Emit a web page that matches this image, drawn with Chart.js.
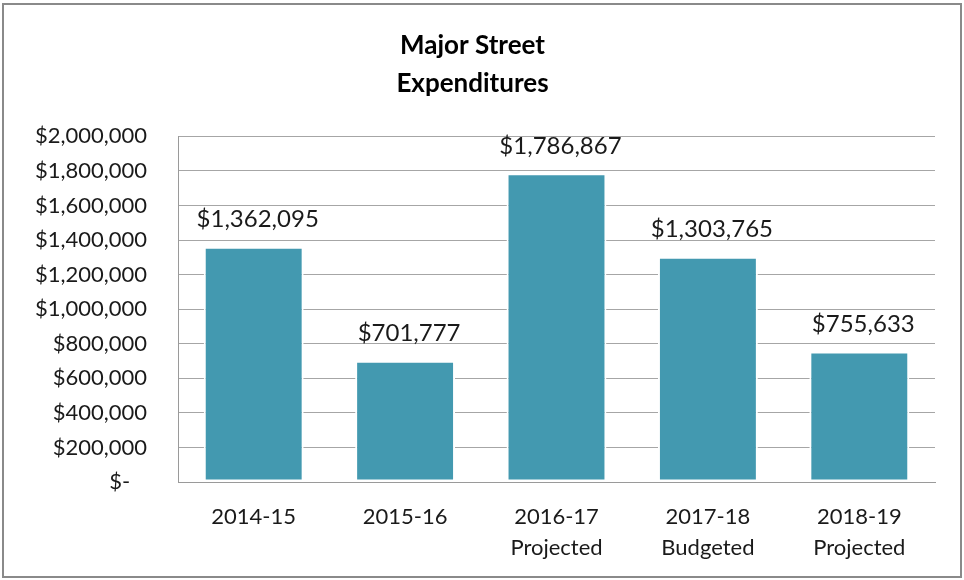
<!DOCTYPE html>
<html>
<head>
<meta charset="utf-8">
<script src="https://cdn.jsdelivr.net/npm/chart.js@4"></script>
<style>
  html, body { margin: 0; padding: 0; background: #fff; }
  #wrap { position: relative; width: 964px; height: 580px; }
</style>
</head>
<body>
<div id="wrap"><canvas id="streetChart"></canvas></div>
<script>
// Data
const categories = [
    ['2014-15'],
    ['2015-16'],
    ['2016-17', 'Projected'],
    ['2017-18', 'Budgeted'],
    ['2018-19', 'Projected']
];
const expenditures = [1362095, 701777, 1786867, 1303765, 755633];
const titleLines = ['Major Street', 'Expenditures'];

const FONT = 'Lato, "Open Sans", sans-serif';

function money(v) {
    if (v === 0) return '$-   '; // accounting style zero, padded like Excel
    return '$' + v.toLocaleString('en-US');
}

// Value labels above bars
const valueLabels = {
    id: 'valueLabels',
    afterDatasetsDraw(chart) {
        const ctx = chart.ctx;
        const meta = chart.getDatasetMeta(0);
        ctx.save();
        ctx.font = '24px ' + FONT;
        ctx.fillStyle = '#1a1a1a';
        ctx.textAlign = 'center';
        ctx.textBaseline = 'middle';
        meta.data.forEach((bar, i) => {
            ctx.fillText(money(expenditures[i]), bar.x + 4, bar.y - 27);
        });
        ctx.restore();
    }
};

// Outer frame of the chart
const frame = {
    id: 'frame',
    afterDraw(chart) {
        const ctx = chart.ctx;
        ctx.save();
        ctx.strokeStyle = '#8a8a8a';
        ctx.lineWidth = 2;
        ctx.strokeRect(3, 4, 958, 573);
        ctx.restore();
    }
};

const ctx = document.getElementById('streetChart').getContext('2d');
new Chart(ctx, {
    type: 'bar',
    data: {
        labels: categories,
        datasets: [{
            label: 'Expenditures',
            data: expenditures,
            backgroundColor: '#4399b0',
            borderColor: '#ffffff',
            borderWidth: 2,
            borderSkipped: false,
            barPercentage: 0.66,
            categoryPercentage: 1
        }]
    },
    options: {
        responsive: true,
        maintainAspectRatio: false,
        animation: false,
        layout: {
            padding: { left: 10, right: 29, top: 0, bottom: 14 }
        },
        plugins: {
            legend: { display: false },
            tooltip: { enabled: false },
            title: {
                display: true,
                text: titleLines,
                color: '#000',
                font: { family: FONT, size: 26, weight: 'bold', lineHeight: 1.45 },
                padding: { top: 27, bottom: 34 }
            }
        },
        scales: {
            x: {
                grid: { display: false, drawTicks: false },
                border: { display: true, color: '#9a9a9a', width: 1 },
                ticks: {
                    color: '#1a1a1a',
                    font: { family: FONT, size: 22, lineHeight: 1.42 },
                    padding: 19,
                    maxRotation: 0
                },
                afterFit(scale) { scale.height = 84; }
            },
            y: {
                min: 0,
                max: 2000000,
                grid: { color: '#a6a6a6', lineWidth: 1, drawTicks: false },
                border: { display: true, color: '#9a9a9a', width: 1 },
                ticks: {
                    stepSize: 200000,
                    color: '#1a1a1a',
                    font: { family: FONT, size: 22 },
                    padding: 31,
                    callback: (v) => money(v)
                },
                afterFit(scale) { scale.width = 168; }
            }
        }
    },
    plugins: [valueLabels, frame]
});
</script>
</body>
</html>
